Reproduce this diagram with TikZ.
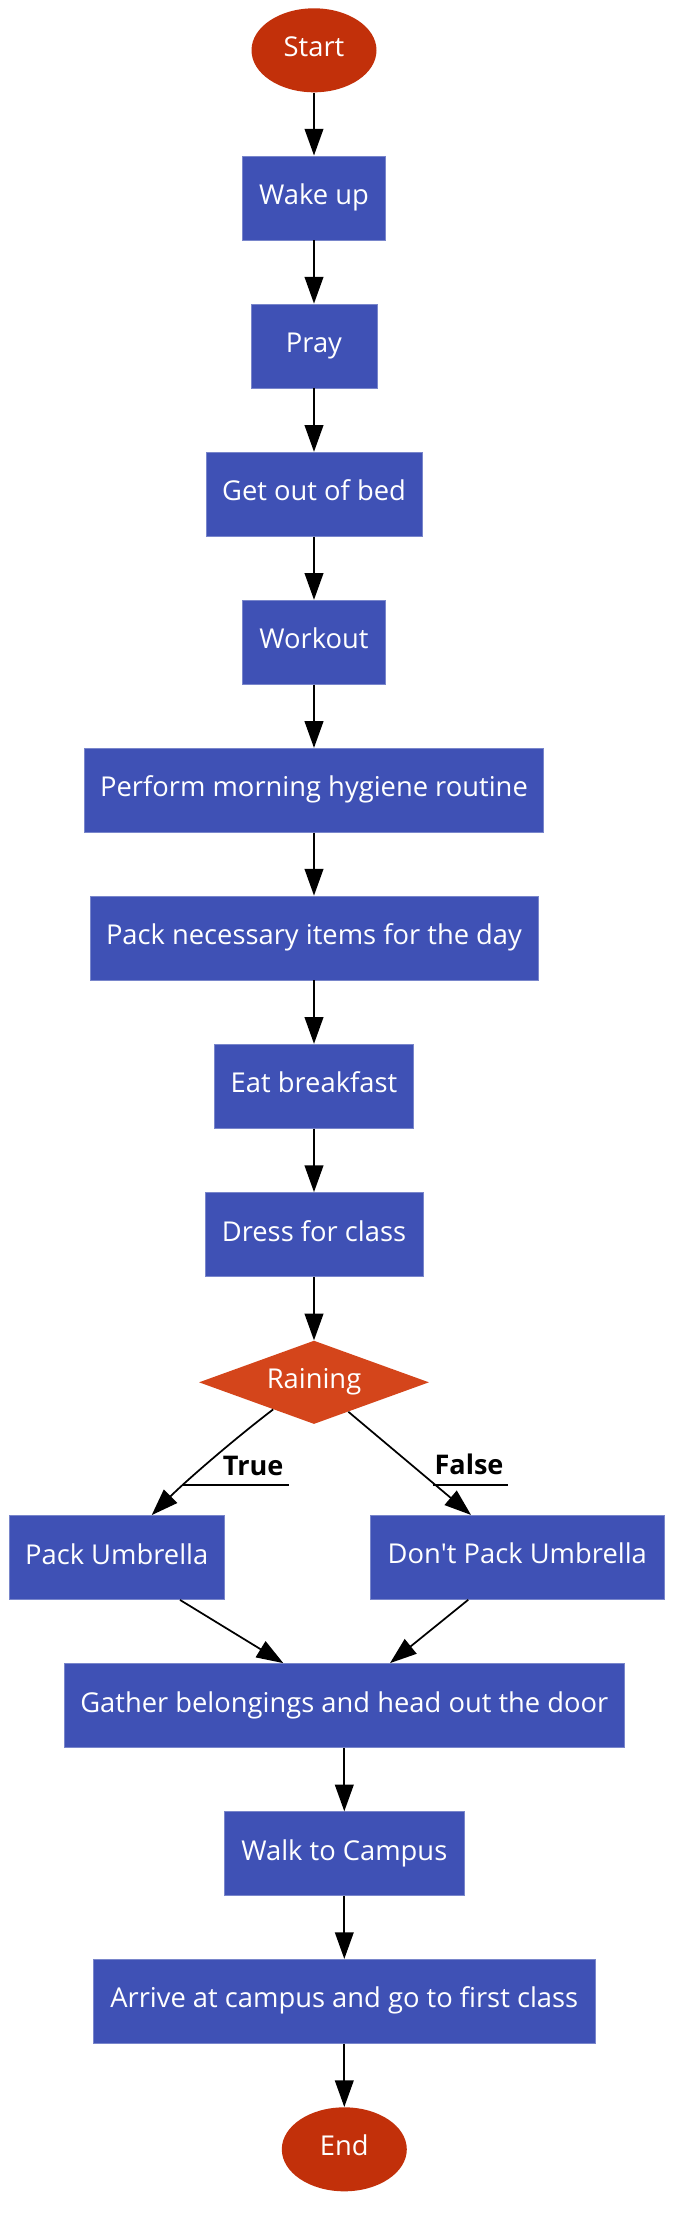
\documentclass[tikz,border=0pt]{standalone}
\usepackage{fontspec}
\setmainfont{Open Sans}
\usetikzlibrary{shapes.geometric,arrows.meta,calc}
\definecolor{boxblue}{HTML}{3F51B5}
\definecolor{boxedge}{HTML}{7986CB}
\definecolor{termred}{HTML}{C2300A}
\definecolor{decorange}{HTML}{D4451B}
\begin{document}
\begin{tikzpicture}[x=0.75pt,y=-0.75pt,
  every node/.style={font=\fontsize{20.5}{24}\selectfont},
  stepbox/.style={rectangle,fill=boxblue,draw=boxedge,line width=0.6pt,text=white,minimum height=63pt,inner sep=0pt,text height=14.8pt,text depth=4.9pt},
  bw/.style={minimum width=#1*0.75pt},
  term/.style={ellipse,fill=termred,text=white,minimum width=93.75pt,minimum height=63pt,inner sep=0pt,text height=14.8pt,text depth=4.9pt},
  decision/.style={diamond,fill=decorange,text=white,minimum width=172.5pt,minimum height=62.5pt,inner sep=0pt,aspect=2.76,text height=14.8pt,text depth=4.9pt},
  arr/.style={-{Triangle[length=20pt,width=14pt]},line width=1.3pt,black},
  elabel/.style={font=\bfseries\fontsize{20.3}{24}\selectfont,inner sep=0pt,anchor=base west,text=black},
  uline/.style={line width=1.25pt,black}]
\fill[white] (0,0) rectangle (686,2214);
\useasboundingbox (0,0) rectangle (686,2214);

\node[term] (start) at (314,50.3) {Start};
\node[stepbox,bw=143] (wake) at (314,197.9) {Wake up};
\node[stepbox,bw=126] (pray) at (314,346) {Pray};
\node[stepbox,bw=216] (getup) at (314,494.2) {Get out of bed};
\node[stepbox,bw=143] (workout) at (314,642.2) {Workout};
\node[stepbox,bw=459.4] (hyg) at (314,790.3) {Perform morning hygiene routine};
\node[stepbox,bw=448] (pack) at (314,938) {Pack necessary items for the day};
\node[stepbox,bw=199.4] (eat) at (314,1086.2) {Eat breakfast};
\node[stepbox,bw=218] (dress) at (314,1234.5) {Dress for class};
\node[decision] (rain) at (314,1382.3) {Raining};
\node[stepbox,bw=214.7] (umb) at (116.7,1557.5) {Pack Umbrella};
\node[stepbox,bw=293.5] (dont) at (517.3,1557.3) {Don\textquotesingle t Pack Umbrella};
\node[stepbox,bw=560] (gather) at (344.3,1705.5) {Gather belongings and head out the door};
\node[stepbox,bw=240] (walk) at (344.3,1853.7) {Walk to Campus};
\node[stepbox,bw=501.4] (arrive) at (344.3,2001.3) {Arrive at campus and go to first class};
\node[term] (fin) at (344.3,2149.3) {End};

\draw[arr] (start) -- (wake);
\draw[arr] (wake) -- (pray);
\draw[arr] (pray) -- (getup);
\draw[arr] (getup) -- (workout);
\draw[arr] (workout) -- (hyg);
\draw[arr] (hyg) -- (pack);
\draw[arr] (pack) -- (eat);
\draw[arr] (eat) -- (dress);
\draw[arr] (dress) -- (rain);

\coordinate (ts) at ($(rain.south)!0.354!(rain.west)$);
\coordinate (te) at ($(umb.north)+(35,0)$);
\draw[arr] (ts) .. controls +(-42,32) and +(32,-32) .. (te);
\coordinate (fs) at ($(rain.south)!0.298!(rain.east)$);
\coordinate (fe) at ($(dont.north)+(-46.3,0)$);
\draw[arr] (fs) -- (fe);

\node[elabel] (tlab) at (222.7,1475) {True};
\node[elabel] (flab) at (434.3,1474) {False};
\coordinate (tu1) at (183.3,1485);
\coordinate (tu2) at (289.3,1485);
\coordinate (fu1) at (432.5,1484.7);
\coordinate (fu2) at (508,1484.7);
\draw[uline] (tu1) -- (tu2);
\draw[uline] (fu1) -- (fu2);

\coordinate (us) at ($(umb.south)+(63.3,0)$);
\coordinate (ge1) at ($(gather.north)+(-61,0)$);
\draw[arr] (us) -- (ge1);
\coordinate (ds) at ($(dont.south)+(-49,0)$);
\coordinate (ge2) at ($(gather.north)+(45.7,0)$);
\draw[arr] (ds) -- (ge2);

\draw[arr] (gather) -- (walk);
\draw[arr] (walk) -- (arrive);
\draw[arr] (arrive) -- (fin);
\end{tikzpicture}
\end{document}
